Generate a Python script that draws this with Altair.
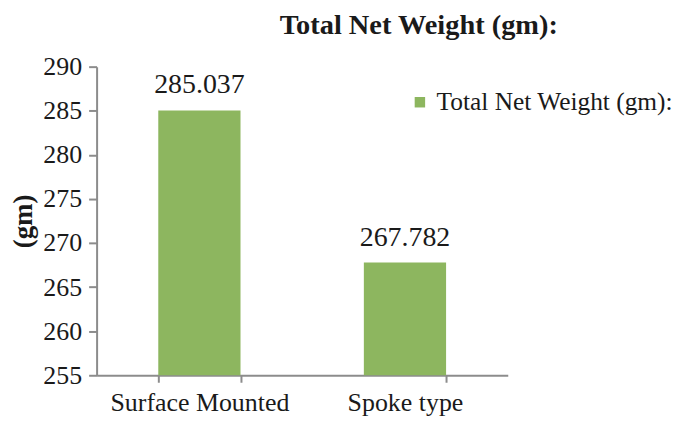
import altair as alt
import pandas as pd

categories = ["Surface Mounted", "Spoke type"]
values = [285.037, 267.782]
series_name = "Total Net Weight (gm):"
y_ticks = [255, 260, 265, 270, 275, 280, 285, 290]

df = pd.DataFrame({"cat": categories, "val": values, "series": [series_name] * len(categories),
                   "label": [f"{v:.3f}" for v in values]})

FONT = "Liberation Serif"
GREEN = "#8DB65F"
AXIS_GRAY = "#8C8C8C"
TXT = "#1a1a1a"

base = alt.Chart(df).encode(
    x=alt.X("cat:N", sort=categories, title=None,
            scale=alt.Scale(paddingInner=0.6, paddingOuter=0.3),
            axis=alt.Axis(labelAngle=0, labelFont=FONT, labelFontSize=26, labelColor=TXT,
                          tickBand="extent", domainColor=AXIS_GRAY, tickColor=AXIS_GRAY,
                          domainWidth=2, tickWidth=2, tickSize=7, labelPadding=7)),
)

bars = base.mark_bar(color=GREEN).encode(
    y=alt.Y("val:Q", title="(gm)",
            scale=alt.Scale(domain=[255, 290], zero=False, nice=False),
            axis=alt.Axis(values=y_ticks, grid=False, labelFont=FONT, labelFontSize=26,
                          labelColor=TXT, titleFont=FONT, titleFontSize=27,
                          titleFontWeight="bold", titleColor=TXT, titlePadding=5,
                          domainColor=AXIS_GRAY, tickColor=AXIS_GRAY, domainWidth=2,
                          tickWidth=2, tickSize=8, labelPadding=7)),
    y2=alt.datum(255),
    color=alt.Color("series:N", scale=alt.Scale(range=[GREEN]),
                    legend=alt.Legend(title=None, orient="none", legendX=312, legendY=23,
                                      symbolType="square", symbolSize=110,
                                      symbolStrokeWidth=0, labelFont=FONT, labelFontSize=25.5,
                                      labelColor=TXT, labelOffset=4, labelLimit=400)),
)

labels = base.mark_text(font=FONT, fontSize=28, color=TXT, baseline="alphabetic", dy=-17).encode(
    y=alt.Y("val:Q"),
    text="label:N",
)

chart = alt.layer(bars, labels).properties(
    width=413, height=310,
    autosize=alt.AutoSizeParams(type="none"),
    padding={"left": 89, "top": 58, "right": 170, "bottom": 40},
    title=alt.Title(series_name, font=FONT, fontSize=28.5, fontWeight="bold", color=TXT,
                    anchor="start", dx=271, offset=14),
).configure_view(stroke=None)

chart.save("out.html", embed_options={"renderer": "svg", "actions": False})
